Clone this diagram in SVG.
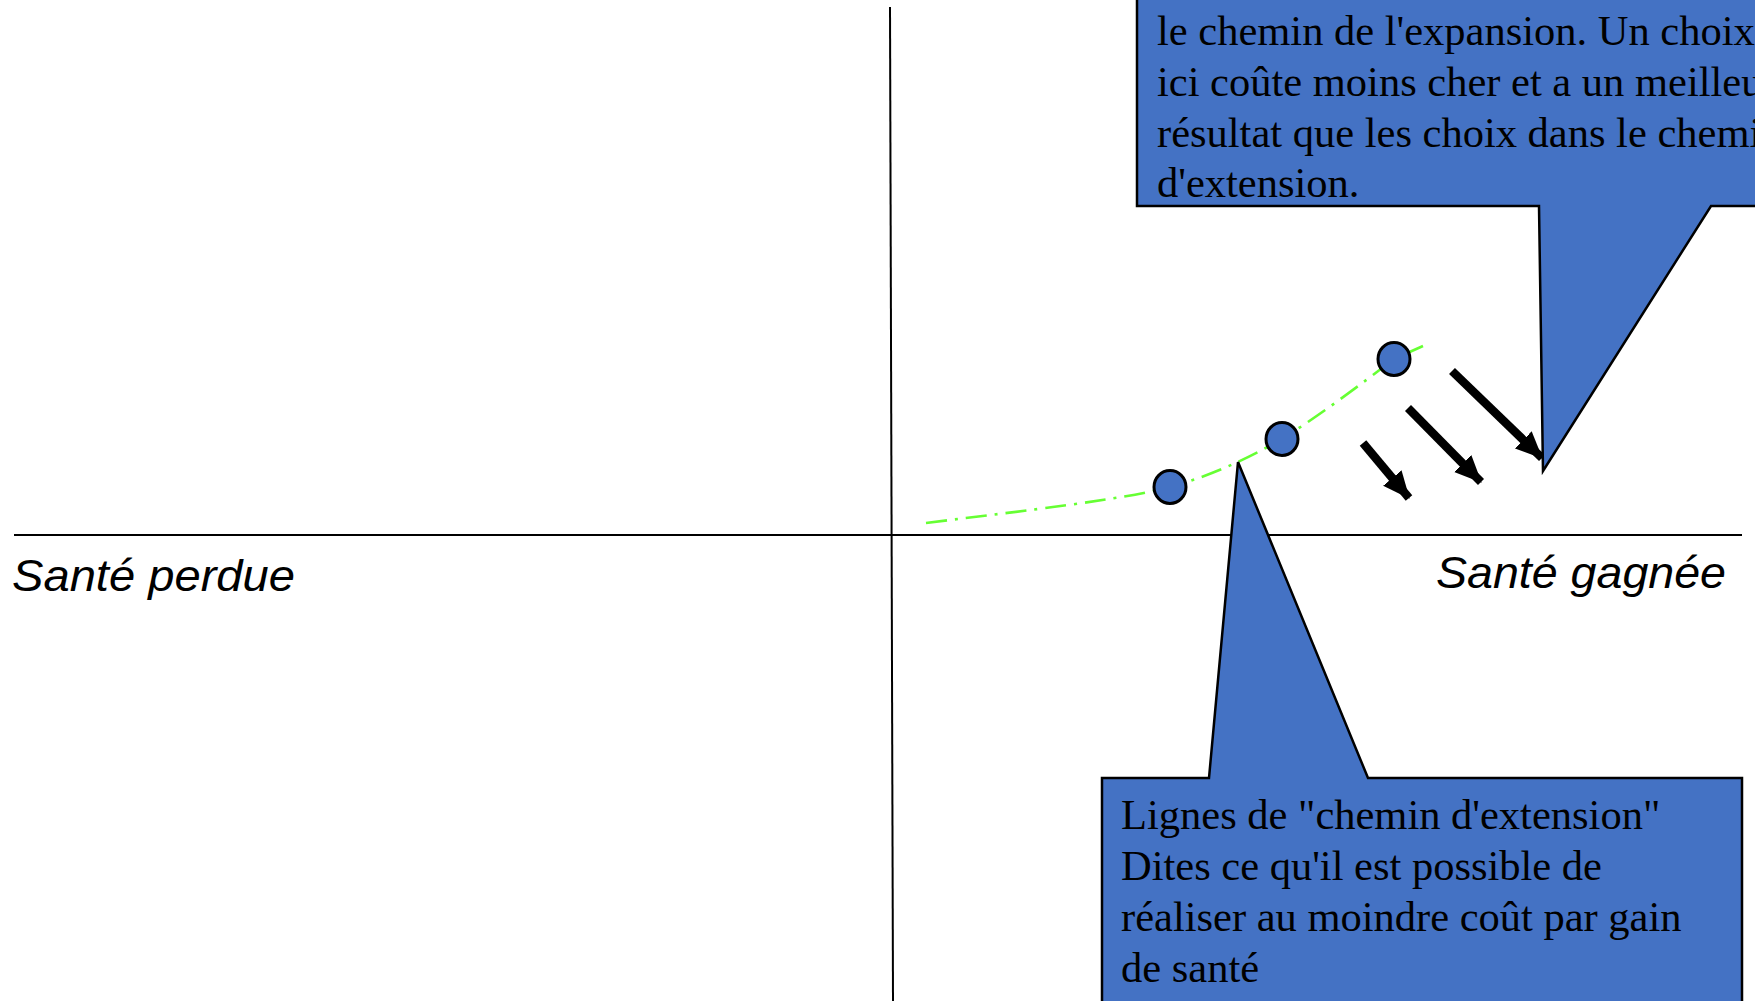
<svg xmlns="http://www.w3.org/2000/svg" width="1755" height="1001" viewBox="0 0 1755 1001">
<style>
.axis{stroke:#000;stroke-width:2;fill:none}
.callout{fill:#4472C4;stroke:#000;stroke-width:2.5;stroke-linejoin:miter}
.ctext{font-family:"Liberation Serif","Times New Roman",serif;font-size:42.5px;fill:#000}
.alabel{font-family:"Liberation Sans",Arial,sans-serif;font-size:44px;font-style:italic;fill:#000}
.pt{fill:#4472C4;stroke:#000;stroke-width:3}
.path{stroke:#66FF33;stroke-width:2.6;fill:none;stroke-dasharray:21 8 3 8}
.arr{stroke:#000;stroke-width:8.5;fill:none;marker-end:url(#ah)}
</style>
<defs>
<marker id="ah" markerUnits="userSpaceOnUse" markerWidth="30" markerHeight="30" viewBox="0 0 30 30" refX="26" refY="15" orient="auto">
<path d="M0,3 L27,15 L0,27 Z" fill="#000"/>
</marker>
</defs>
<rect width="1755" height="1001" fill="#fff"/>
<g id="axes">
<line class="axis" x1="890" y1="7" x2="893" y2="1001"/>
<line class="axis" x1="14" y1="535" x2="1742" y2="535"/>
</g>
<g id="label-perdue"><text class="alabel" x="12" y="591" textLength="283" lengthAdjust="spacingAndGlyphs">Santé perdue</text></g>
<g id="label-gagnee"><text class="alabel" x="1436" y="588" textLength="290" lengthAdjust="spacingAndGlyphs">Santé gagnée</text></g>
<g id="connectors">
<path class="path" d="M926,523 C1030,510 1120,500 1170,487 C1210,476 1245,460 1282,439 C1320,415 1360,385 1394,359 L1423,346"/>
<line class="arr" x1="1452" y1="371" x2="1542" y2="458"/>
<line class="arr" x1="1408" y1="408" x2="1481" y2="482"/>
<line class="arr" x1="1363" y1="443" x2="1409" y2="498"/>
</g>
<g id="point1"><ellipse class="pt" cx="1170" cy="487" rx="16" ry="16.5"/></g>
<g id="point2"><ellipse class="pt" cx="1282" cy="439" rx="16" ry="16.5"/></g>
<g id="point3"><ellipse class="pt" cx="1394" cy="359" rx="16" ry="16.5"/></g>
<g id="callout-top">
<path class="callout" d="M1137,-10 L1137,206 L1539,206 L1543,471 L1711,206 L1770,206 L1770,-10 Z"/>
<text class="ctext" x="1157" y="45">le chemin de l'expansion. Un choix</text>
<text class="ctext" x="1157" y="96">ici coûte moins cher et a un meilleur</text>
<text class="ctext" x="1157" y="147">résultat que les choix dans le chemin</text>
<text class="ctext" x="1157" y="197">d'extension.</text>
</g>
<g id="callout-bottom">
<path class="callout" d="M1102,778 L1209,778 L1238,462 L1368,778 L1742,778 L1742,1015 L1102,1015 Z"/>
<text class="ctext" x="1121" y="829">Lignes de "chemin d'extension"</text>
<text class="ctext" x="1121" y="880">Dites ce qu'il est possible de</text>
<text class="ctext" x="1121" y="931">réaliser au moindre coût par gain</text>
<text class="ctext" x="1121" y="982">de santé</text>
</g>
</svg>
